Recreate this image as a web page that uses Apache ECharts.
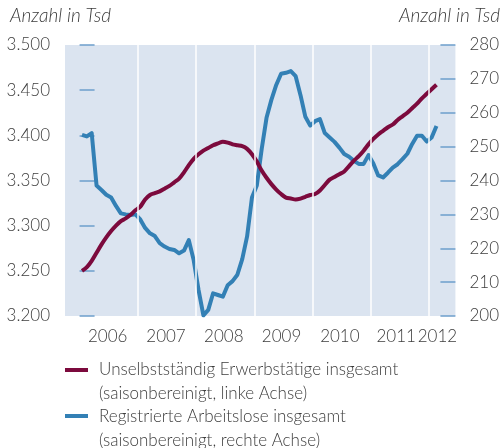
<!DOCTYPE html>
<html>
<head>
<meta charset="utf-8">
<script src="https://cdn.jsdelivr.net/npm/echarts@6/dist/echarts.min.js"></script>
<style>
  html, body { margin: 0; padding: 0; background: #fff; }
  #chart { width: 502px; height: 448px; }
</style>
</head>
<body>
<div id="chart"></div>
<script>
// Monate ab Jan 2006 (0 = Jan 2006), Werte bis Feb 2012
const months = [];
for (let i = 0; i < 74; i++) months.push(i + 0.5);

// Unselbstständig Erwerbstätige (Tsd, linke Achse)
const employed = [
  3250, 3254, 3261, 3270, 3279, 3287, 3294, 3300, 3305, 3308, 3312, 3317,
  3321, 3329, 3334, 3336, 3338, 3341, 3344, 3348, 3352, 3359, 3367, 3374,
  3379, 3383, 3386, 3389, 3391, 3393, 3392, 3390, 3389, 3388, 3385, 3379,
  3371, 3361, 3353, 3346, 3340, 3335, 3331, 3330, 3329, 3330, 3332, 3334,
  3335, 3339, 3345, 3351, 3354, 3357, 3360, 3366, 3372, 3377, 3383, 3390,
  3396, 3401, 3405, 3409, 3412, 3417, 3421, 3425, 3430, 3435, 3441, 3446,
  3451, 3456
];

// Registrierte Arbeitslose (Tsd, rechte Achse)
const unemployed = [
  253.5, 253.0, 254.0, 238.5, 237.2, 235.8, 235.0, 232.5, 230.3, 230.0, 229.8, 230.0,
  228.5, 226.0, 224.4, 223.6, 221.5, 220.5, 219.8, 219.5, 218.5, 219.3, 222.4, 216.5,
  207.7, 200.2, 201.8, 206.7, 206.2, 205.7, 209.1, 210.3, 212.2, 216.8, 223.5, 235.0,
  238.5, 249.2, 258.5, 263.8, 268.2, 271.5, 271.8, 272.3, 270.8, 265.2, 258.8, 256.2,
  257.5, 258.1, 254.0, 252.7, 251.4, 249.7, 247.8, 247.0, 245.8, 244.9, 244.9, 247.5,
  245.0, 241.5, 240.9, 242.3, 243.8, 244.8, 246.3, 247.9, 250.8, 253.2, 253.2, 251.5,
  252.7, 256.1
];

const yearLabels = ['2006', '2007', '2008', '2009', '2010', '2011', '2012'];
const yearLabelPos = [5.8, 17.8, 29.7, 41.6, 53.6, 65.2, 73.7];
const yearBounds = [12, 24, 36, 48, 60, 72];

const seriesNames = [
  'Unselbstständig Erwerbstätige insgesamt\n(saisonbereinigt, linke Achse)',
  'Registrierte Arbeitslose insgesamt\n(saisonbereinigt, rechte Achse)'
];

const MAROON = '#7c0a3d';
const BLUE = '#3380b5';
const TICK = '#6d9fcc';
const TEXT = '#3c3c3c';
const FONT = 'Lato, "Open Sans", sans-serif';

const chart = echarts.init(document.getElementById('chart'), null, { renderer: 'canvas' });

const option = {
  animation: false,
  backgroundColor: '#fff',
  textStyle: { fontFamily: FONT },
  grid: {
    left: 65, right: 43, top: 45, bottom: 132,
    show: true, backgroundColor: '#dbe4f0', borderWidth: 0
  },
  xAxis: {
    type: 'value',
    min: -3,
    max: 77.4,
    axisLine: { show: false },
    axisTick: { show: false },
    splitLine: { show: false },
    axisLabel: {
      customValues: yearLabelPos,
      formatter: v => {
        const idx = yearLabelPos.findIndex(p => Math.abs(p - v) < 0.01);
        return idx >= 0 ? yearLabels[idx] : '';
      },
      color: TEXT, fontSize: 17, fontWeight: 300, fontFamily: FONT, margin: 12
    }
  },
  yAxis: [
    {
      type: 'value', min: 3200, max: 3500, interval: 50, position: 'left',
      axisLine: { show: false },
      axisTick: { show: true, inside: true, length: 15, lineStyle: { color: TICK, width: 1.5 } },
      splitLine: { show: false },
      axisLabel: {
        formatter: v => (v / 1000).toFixed(3),
        color: TEXT, fontSize: 17, fontWeight: 300, fontFamily: FONT, margin: 15
      }
    },
    {
      type: 'value', min: 200, max: 280, interval: 10, position: 'right',
      axisLine: { show: false },
      axisTick: { show: true, inside: true, length: 15, lineStyle: { color: TICK, width: 1.5 } },
      splitLine: { show: false },
      axisLabel: { color: TEXT, fontSize: 17, fontWeight: 300, fontFamily: FONT, margin: 14 }
    }
  ],
  series: [
    {
      type: 'line', name: 'years', data: [], z: 1, silent: true,
      markLine: {
        silent: true, symbol: ['none', 'none'], label: { show: false },
        lineStyle: { color: '#ffffff', width: 1.5, type: 'solid' },
        emphasis: { disabled: true },
        data: yearBounds.map(v => ({ xAxis: v }))
      }
    },
    {
      type: 'line', name: seriesNames[0], yAxisIndex: 0, z: 3,
      data: months.map((m, i) => [m, employed[i]]),
      showSymbol: false, smooth: 0.3,
      lineStyle: { color: MAROON, width: 4 }, itemStyle: { color: MAROON }
    },
    {
      type: 'line', name: seriesNames[1], yAxisIndex: 1, z: 2,
      data: months.map((m, i) => [m, unemployed[i]]),
      showSymbol: false,
      lineStyle: { color: BLUE, width: 4, join: 'round' }, itemStyle: { color: BLUE }
    }
  ],
  graphic: [
    { type: 'text', left: 10, top: 6, style: { text: 'Anzahl in Tsd', fontSize: 19, fontStyle: 'italic', fontWeight: 300, fontFamily: FONT, fill: TEXT } },
    { type: 'text', right: 2, top: 6, style: { text: 'Anzahl in Tsd', fontSize: 19, fontStyle: 'italic', fontWeight: 300, fontFamily: FONT, fill: TEXT } },
    { type: 'line', shape: { x1: 65, y1: 370, x2: 88, y2: 370 }, style: { stroke: MAROON, lineWidth: 4 } },
    { type: 'line', shape: { x1: 65, y1: 416, x2: 88, y2: 416 }, style: { stroke: BLUE, lineWidth: 4 } },
    { type: 'text', x: 99, y: 358, style: { text: seriesNames[0], fontSize: 17, lineHeight: 23.5, fontWeight: 300, fontFamily: FONT, fill: TEXT } },
    { type: 'text', x: 99, y: 405, style: { text: seriesNames[1], fontSize: 17, lineHeight: 23.5, fontWeight: 300, fontFamily: FONT, fill: TEXT } }
  ]
};

chart.setOption(option);
</script>
</body>
</html>
